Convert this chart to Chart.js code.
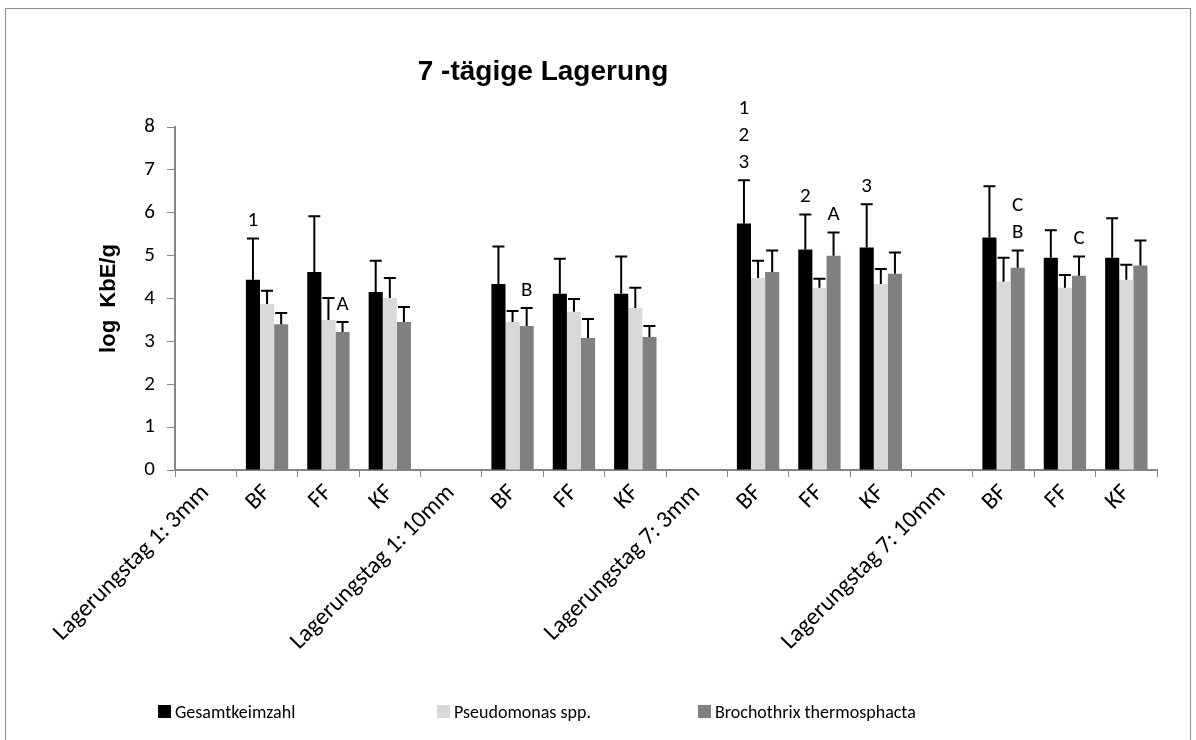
<!DOCTYPE html>
<html>
<head>
<meta charset="utf-8">
<script src="https://cdn.jsdelivr.net/npm/chart.js@4"></script>
<style>
  html, body { margin: 0; padding: 0; background: #fff; }
  #wrap { width: 1196px; height: 740px; }
</style>
</head>
<body>
<div id="wrap"><canvas id="lagerChart" width="1196" height="740"></canvas></div>
<script>
// categories and values
const categories = [
    'Lagerungstag 1: 3mm', 'BF', 'FF', 'KF',
    'Lagerungstag 1: 10mm', 'BF', 'FF', 'KF',
    'Lagerungstag 7: 3mm', 'BF', 'FF', 'KF',
    'Lagerungstag 7: 10mm', 'BF', 'FF', 'KF'
];
const seriesNames = ['Gesamtkeimzahl', 'Pseudomonas spp.', 'Brochothrix thermosphacta'];
const seriesColors = ['#000000', '#d9d9d9', '#808080'];

const gesamt   = [null, 4.44, 4.62, 4.15, null, 4.34, 4.11, 4.11, null, 5.75, 5.14, 5.19, null, 5.42, 4.95, 4.95];
const gesamtSd = [null, 0.96, 1.30, 0.73, null, 0.87, 0.82, 0.87, null, 1.01, 0.82, 1.01, null, 1.20, 0.64, 0.92];
const pseudo   = [null, 3.87, 3.50, 4.01, null, 3.45, 3.69, 3.78, null, 4.48, 4.25, 4.34, null, 4.39, 4.25, 4.44];
const pseudoSd = [null, 0.31, 0.51, 0.47, null, 0.26, 0.30, 0.47, null, 0.40, 0.21, 0.35, null, 0.56, 0.30, 0.35];
const broch    = [null, 3.40, 3.22, 3.45, null, 3.36, 3.08, 3.10, null, 4.62, 5.00, 4.58, null, 4.72, 4.53, 4.77];
const brochSd  = [null, 0.26, 0.23, 0.35, null, 0.42, 0.44, 0.26, null, 0.50, 0.54, 0.49, null, 0.40, 0.45, 0.58];

// significance letters above the error bars (lines listed top to bottom)
const gesamtMarks = ['', '1', '', '', '', '', '', '', '', '1\n2\n3', '2', '3', '', '', '', ''];
const pseudoMarks = ['', '', '', '', '', '', '', '', '', '', '', '', '', '', '', ''];
const brochMarks  = ['', '', 'A', '', '', 'B', '', '', '', '', 'A', '', '', 'C\nB', 'C', ''];

const yTicks = [0, 1, 2, 3, 4, 5, 6, 7, 8];

const calibri = 'Carlito, Lato, "Liberation Sans", sans-serif';
const arial = '"Liberation Sans", Arial, sans-serif';

// error bars + letters
const errorBars = {
    id: 'errorBars',
    afterDatasetsDraw(chart) {
        const ctx = chart.ctx;
        const y = chart.scales.y;
        ctx.save();
        chart.data.datasets.forEach((ds, i) => {
            const meta = chart.getDatasetMeta(i);
            meta.data.forEach((bar, j) => {
                const v = ds.data[j];
                if (v == null) return;
                const top = y.getPixelForValue(v + ds.sd[j]);
                ctx.strokeStyle = '#000';
                ctx.lineWidth = 2;
                ctx.beginPath();
                ctx.moveTo(bar.x, bar.y);
                ctx.lineTo(bar.x, top);
                ctx.moveTo(bar.x - 6, top);
                ctx.lineTo(bar.x + 6, top);
                ctx.stroke();
                const mark = ds.marks[j];
                if (mark) {
                    const lines = mark.split('\n').reverse();
                    ctx.fillStyle = '#000';
                    ctx.font = '21px ' + calibri;
                    ctx.textAlign = 'center';
                    ctx.textBaseline = 'alphabetic';
                    lines.forEach((t, k) => {
                        ctx.fillText(t, bar.x, top - 12 - k * 27);
                    });
                }
            });
        });
        ctx.restore();
    }
};

// frame, title, legend
const decor = {
    id: 'decor',
    afterDraw(chart) {
        const ctx = chart.ctx;
        ctx.save();
        ctx.strokeStyle = '#8c8c8c';
        ctx.lineWidth = 1;
        ctx.strokeRect(5.5, 8.5, 1185, 740);

        ctx.fillStyle = '#000';
        ctx.font = 'bold 28px ' + arial;
        ctx.textAlign = 'center';
        ctx.textBaseline = 'middle';
        ctx.fillText('7 -tägige Lagerung', 543, 72);

        const legendX = [158, 437, 698];
        ctx.font = '18px ' + calibri;
        ctx.textAlign = 'left';
        seriesNames.forEach((name, i) => {
            ctx.fillStyle = seriesColors[i];
            ctx.fillRect(legendX[i], 705, 13, 13);
            ctx.fillStyle = '#000';
            ctx.fillText(name, legendX[i] + 17, 713);
        });
        ctx.restore();
    }
};

const ctx = document.getElementById('lagerChart').getContext('2d');
const lagerChart = new Chart(ctx, {
    type: 'bar',
    data: {
        labels: categories,
        datasets: [
            { label: seriesNames[0], data: gesamt, sd: gesamtSd, marks: gesamtMarks, backgroundColor: seriesColors[0] },
            { label: seriesNames[1], data: pseudo, sd: pseudoSd, marks: pseudoMarks, backgroundColor: seriesColors[1] },
            { label: seriesNames[2], data: broch, sd: brochSd, marks: brochMarks, backgroundColor: seriesColors[2] }
        ]
    },
    options: {
        responsive: false,
        animation: false,
        devicePixelRatio: 1,
        barPercentage: 1,
        categoryPercentage: 0.69,
        layout: { padding: { top: 127, right: 39, left: 0, bottom: 0 } },
        plugins: {
            legend: { display: false },
            tooltip: { enabled: false }
        },
        scales: {
            x: {
                grid: { offset: true, drawOnChartArea: false, tickLength: 7, color: '#868686', lineWidth: 1 },
                border: { color: '#868686', width: 2 },
                ticks: { color: '#000', maxRotation: 45, minRotation: 45, autoSkip: false, padding: 2,
                         font: { family: calibri, size: 24 } },
                afterFit(scale) { scale.height = 270; }
            },
            y: {
                min: 0, max: 8,
                afterBuildTicks(scale) { scale.ticks = yTicks.map(v => ({ value: v })); },
                grid: { drawOnChartArea: false, tickLength: 8, color: '#868686' },
                border: { color: '#868686', width: 2 },
                ticks: { color: '#000', padding: 12, font: { family: calibri, size: 21 } },
                title: { display: true, text: 'log  KbE/g', color: '#000', padding: { top: 96 },
                         font: { family: arial, size: 22, weight: 'bold' } },
                afterFit(scale) { scale.width = 175; }
            }
        }
    },
    plugins: [errorBars, decor]
});
</script>
</body>
</html>
